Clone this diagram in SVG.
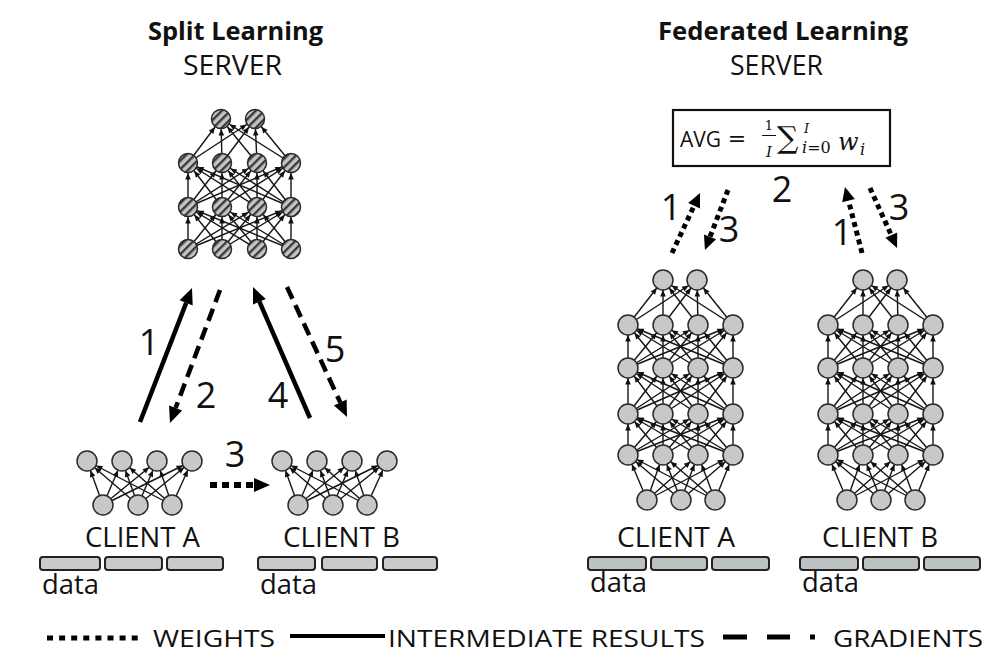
<svg xmlns="http://www.w3.org/2000/svg" xmlns:xlink="http://www.w3.org/1999/xlink" width="995" height="657" viewBox="0 0 995 657">
<style>
text{font-family:"Open Sans",Lato,"DejaVu Sans",sans-serif;fill:#111}
.title{font-size:25px;font-weight:bold}
.lbl{font-size:27px}
.num{font-size:36px;text-anchor:middle}
.leg{font-size:23px}
.e line{stroke:#151515;stroke-width:1.4;marker-end:url(#ah)}
.n{fill:#c8c8c8;stroke:#2a2a2a;stroke-width:1.5}
.h{fill:url(#hatch);stroke:#2a2a2a;stroke-width:1.5}
.bar{fill:#c9cbcb;stroke:#222;stroke-width:2}
.bar2{fill:#bcc1c2;stroke:#222;stroke-width:2}
.solid{stroke:#000;stroke-width:4.5;fill:none}
.dash{stroke:#000;stroke-width:4.5;stroke-dasharray:13 7;fill:none}
.dot{stroke:#000;stroke-width:5;stroke-dasharray:5 4;fill:none}
.m{font-family:"DejaVu Serif","Liberation Serif",serif}
</style>
<defs>
<pattern id="hatch" patternUnits="userSpaceOnUse" width="6" height="6" patternTransform="rotate(45)">
<rect width="6" height="6" fill="#c4c4c4"/><rect width="2.4" height="6" fill="#3a3a3a"/>
</pattern>
<marker id="ah" markerUnits="userSpaceOnUse" viewBox="-20 -10 40 20" markerWidth="40" markerHeight="20" refX="10" refY="0" orient="auto" overflow="visible">
<path d="M0,0 L-6.5,-2.8 L-6.5,2.8 Z" fill="#111"/>
</marker>
<marker id="big" markerUnits="userSpaceOnUse" viewBox="0 -10 20 20" markerWidth="20" markerHeight="20" refX="0" refY="0" orient="auto" overflow="visible">
<path d="M16,0 L0,-7 L0,7 Z" fill="#000"/>
</marker>
<marker id="med" markerUnits="userSpaceOnUse" viewBox="0 -10 20 20" markerWidth="20" markerHeight="20" refX="0" refY="0" orient="auto" overflow="visible">
<path d="M14,0 L0,-6.5 L0,6.5 Z" fill="#000"/>
</marker>
<g id="clientNet">
<g class="e">
<line x1="103" y1="505" x2="87" y2="461"/><line x1="103" y1="505" x2="122" y2="461"/><line x1="103" y1="505" x2="157" y2="461"/><line x1="103" y1="505" x2="192" y2="461"/>
<line x1="138" y1="505" x2="87" y2="461"/><line x1="138" y1="505" x2="122" y2="461"/><line x1="138" y1="505" x2="157" y2="461"/><line x1="138" y1="505" x2="192" y2="461"/>
<line x1="172" y1="505" x2="87" y2="461"/><line x1="172" y1="505" x2="122" y2="461"/><line x1="172" y1="505" x2="157" y2="461"/><line x1="172" y1="505" x2="192" y2="461"/>
</g>
<circle class="n" cx="87" cy="461" r="10"/><circle class="n" cx="122" cy="461" r="10"/><circle class="n" cx="157" cy="461" r="10"/><circle class="n" cx="192" cy="461" r="10"/>
<circle class="n" cx="103" cy="505" r="10"/><circle class="n" cx="138" cy="505" r="10"/><circle class="n" cx="172" cy="505" r="10"/>
</g>
<g id="flNet">
<g class="e">
<line x1="47" y1="500" x2="28" y2="455"/><line x1="47" y1="500" x2="63" y2="455"/><line x1="47" y1="500" x2="98" y2="455"/><line x1="47" y1="500" x2="133" y2="455"/>
<line x1="81" y1="500" x2="28" y2="455"/><line x1="81" y1="500" x2="63" y2="455"/><line x1="81" y1="500" x2="98" y2="455"/><line x1="81" y1="500" x2="133" y2="455"/>
<line x1="115" y1="500" x2="28" y2="455"/><line x1="115" y1="500" x2="63" y2="455"/><line x1="115" y1="500" x2="98" y2="455"/><line x1="115" y1="500" x2="133" y2="455"/>
<line x1="28" y1="455" x2="28" y2="414"/><line x1="28" y1="455" x2="63" y2="414"/><line x1="28" y1="455" x2="98" y2="414"/><line x1="28" y1="455" x2="133" y2="414"/>
<line x1="63" y1="455" x2="28" y2="414"/><line x1="63" y1="455" x2="63" y2="414"/><line x1="63" y1="455" x2="98" y2="414"/><line x1="63" y1="455" x2="133" y2="414"/>
<line x1="98" y1="455" x2="28" y2="414"/><line x1="98" y1="455" x2="63" y2="414"/><line x1="98" y1="455" x2="98" y2="414"/><line x1="98" y1="455" x2="133" y2="414"/>
<line x1="133" y1="455" x2="28" y2="414"/><line x1="133" y1="455" x2="63" y2="414"/><line x1="133" y1="455" x2="98" y2="414"/><line x1="133" y1="455" x2="133" y2="414"/>
<line x1="28" y1="414" x2="28" y2="368"/><line x1="28" y1="414" x2="63" y2="368"/><line x1="28" y1="414" x2="98" y2="368"/><line x1="28" y1="414" x2="133" y2="368"/>
<line x1="63" y1="414" x2="28" y2="368"/><line x1="63" y1="414" x2="63" y2="368"/><line x1="63" y1="414" x2="98" y2="368"/><line x1="63" y1="414" x2="133" y2="368"/>
<line x1="98" y1="414" x2="28" y2="368"/><line x1="98" y1="414" x2="63" y2="368"/><line x1="98" y1="414" x2="98" y2="368"/><line x1="98" y1="414" x2="133" y2="368"/>
<line x1="133" y1="414" x2="28" y2="368"/><line x1="133" y1="414" x2="63" y2="368"/><line x1="133" y1="414" x2="98" y2="368"/><line x1="133" y1="414" x2="133" y2="368"/>
<line x1="28" y1="368" x2="28" y2="325"/><line x1="28" y1="368" x2="63" y2="325"/><line x1="28" y1="368" x2="98" y2="325"/><line x1="28" y1="368" x2="133" y2="325"/>
<line x1="63" y1="368" x2="28" y2="325"/><line x1="63" y1="368" x2="63" y2="325"/><line x1="63" y1="368" x2="98" y2="325"/><line x1="63" y1="368" x2="133" y2="325"/>
<line x1="98" y1="368" x2="28" y2="325"/><line x1="98" y1="368" x2="63" y2="325"/><line x1="98" y1="368" x2="98" y2="325"/><line x1="98" y1="368" x2="133" y2="325"/>
<line x1="133" y1="368" x2="28" y2="325"/><line x1="133" y1="368" x2="63" y2="325"/><line x1="133" y1="368" x2="98" y2="325"/><line x1="133" y1="368" x2="133" y2="325"/>
<line x1="28" y1="325" x2="63" y2="280"/><line x1="28" y1="325" x2="97" y2="280"/>
<line x1="63" y1="325" x2="63" y2="280"/><line x1="63" y1="325" x2="97" y2="280"/>
<line x1="98" y1="325" x2="63" y2="280"/><line x1="98" y1="325" x2="97" y2="280"/>
<line x1="133" y1="325" x2="63" y2="280"/><line x1="133" y1="325" x2="97" y2="280"/>
</g>
<circle class="n" cx="63" cy="280" r="10"/><circle class="n" cx="97" cy="280" r="10"/>
<circle class="n" cx="28" cy="325" r="10"/><circle class="n" cx="63" cy="325" r="10"/><circle class="n" cx="98" cy="325" r="10"/><circle class="n" cx="133" cy="325" r="10"/>
<circle class="n" cx="28" cy="368" r="10"/><circle class="n" cx="63" cy="368" r="10"/><circle class="n" cx="98" cy="368" r="10"/><circle class="n" cx="133" cy="368" r="10"/>
<circle class="n" cx="28" cy="414" r="10"/><circle class="n" cx="63" cy="414" r="10"/><circle class="n" cx="98" cy="414" r="10"/><circle class="n" cx="133" cy="414" r="10"/>
<circle class="n" cx="28" cy="455" r="10"/><circle class="n" cx="63" cy="455" r="10"/><circle class="n" cx="98" cy="455" r="10"/><circle class="n" cx="133" cy="455" r="10"/>
<circle class="n" cx="47" cy="500" r="10"/><circle class="n" cx="81" cy="500" r="10"/><circle class="n" cx="115" cy="500" r="10"/>
</g>
</defs>
<rect width="995" height="657" fill="#fff"/>

<g id="titles">
<text class="title" x="148" y="40" textLength="175" lengthAdjust="spacingAndGlyphs">Split Learning</text>
<text class="title" x="658" y="40" textLength="250" lengthAdjust="spacingAndGlyphs">Federated Learning</text>
</g>

<g id="sl-server">
<text class="lbl" x="183" y="75" textLength="99" lengthAdjust="spacingAndGlyphs">SERVER</text>
<g class="e">
<line x1="188" y1="249" x2="188" y2="207"/><line x1="188" y1="249" x2="222" y2="207"/><line x1="188" y1="249" x2="257" y2="207"/><line x1="188" y1="249" x2="291" y2="207"/>
<line x1="222" y1="249" x2="188" y2="207"/><line x1="222" y1="249" x2="222" y2="207"/><line x1="222" y1="249" x2="257" y2="207"/><line x1="222" y1="249" x2="291" y2="207"/>
<line x1="257" y1="249" x2="188" y2="207"/><line x1="257" y1="249" x2="222" y2="207"/><line x1="257" y1="249" x2="257" y2="207"/><line x1="257" y1="249" x2="291" y2="207"/>
<line x1="291" y1="249" x2="188" y2="207"/><line x1="291" y1="249" x2="222" y2="207"/><line x1="291" y1="249" x2="257" y2="207"/><line x1="291" y1="249" x2="291" y2="207"/>
<line x1="188" y1="207" x2="188" y2="163"/><line x1="188" y1="207" x2="222" y2="163"/><line x1="188" y1="207" x2="257" y2="163"/><line x1="188" y1="207" x2="291" y2="163"/>
<line x1="222" y1="207" x2="188" y2="163"/><line x1="222" y1="207" x2="222" y2="163"/><line x1="222" y1="207" x2="257" y2="163"/><line x1="222" y1="207" x2="291" y2="163"/>
<line x1="257" y1="207" x2="188" y2="163"/><line x1="257" y1="207" x2="222" y2="163"/><line x1="257" y1="207" x2="257" y2="163"/><line x1="257" y1="207" x2="291" y2="163"/>
<line x1="291" y1="207" x2="188" y2="163"/><line x1="291" y1="207" x2="222" y2="163"/><line x1="291" y1="207" x2="257" y2="163"/><line x1="291" y1="207" x2="291" y2="163"/>
<line x1="188" y1="163" x2="221" y2="119"/><line x1="188" y1="163" x2="255" y2="119"/>
<line x1="222" y1="163" x2="221" y2="119"/><line x1="222" y1="163" x2="255" y2="119"/>
<line x1="257" y1="163" x2="221" y2="119"/><line x1="257" y1="163" x2="255" y2="119"/>
<line x1="291" y1="163" x2="221" y2="119"/><line x1="291" y1="163" x2="255" y2="119"/>
</g>
<circle class="h" cx="221" cy="119" r="9.5"/><circle class="h" cx="255" cy="119" r="9.5"/>
<circle class="h" cx="188" cy="163" r="9.5"/><circle class="h" cx="222" cy="163" r="9.5"/><circle class="h" cx="257" cy="163" r="9.5"/><circle class="h" cx="291" cy="163" r="9.5"/>
<circle class="h" cx="188" cy="207" r="9.5"/><circle class="h" cx="222" cy="207" r="9.5"/><circle class="h" cx="257" cy="207" r="9.5"/><circle class="h" cx="291" cy="207" r="9.5"/>
<circle class="h" cx="188" cy="249" r="9.5"/><circle class="h" cx="222" cy="249" r="9.5"/><circle class="h" cx="257" cy="249" r="9.5"/><circle class="h" cx="291" cy="249" r="9.5"/>
</g>

<g id="sl-client-a">
<use xlink:href="#clientNet" href="#clientNet"/>
<text class="lbl" x="85" y="547" textLength="115" lengthAdjust="spacingAndGlyphs">CLIENT A</text>
<rect class="bar" x="40" y="557" width="60" height="13" rx="3"/>
<rect class="bar" x="105" y="557" width="57" height="13" rx="3"/>
<rect class="bar" x="167" y="557" width="56" height="13" rx="3"/>
<text class="lbl" x="42" y="594" textLength="57" lengthAdjust="spacingAndGlyphs">data</text>
</g>

<g id="sl-client-b">
<use xlink:href="#clientNet" href="#clientNet" transform="translate(195,0)"/>
<text class="lbl" x="283" y="547" textLength="117" lengthAdjust="spacingAndGlyphs">CLIENT B</text>
<rect class="bar" x="258" y="557" width="57" height="13" rx="3"/>
<rect class="bar" x="322" y="557" width="55" height="13" rx="3"/>
<rect class="bar" x="383" y="557" width="54" height="13" rx="3"/>
<text class="lbl" x="260" y="594" textLength="57" lengthAdjust="spacingAndGlyphs">data</text>
</g>

<g id="fl-server">
<text class="lbl" x="730" y="75" textLength="93" lengthAdjust="spacingAndGlyphs">SERVER</text>
<rect x="673" y="110" width="217" height="56" fill="#fff" stroke="#111" stroke-width="2.2"/>
<text x="680" y="147" style="font-size:21px">AVG</text>
<text class="m" x="737" y="146" style="font-size:22px" text-anchor="middle">=</text>
<text class="m" x="769" y="130" style="font-size:13px" text-anchor="middle">1</text>
<line x1="762" y1="135.5" x2="776" y2="135.5" stroke="#111" stroke-width="1"/>
<text class="m" x="769" y="157" style="font-size:15px;font-style:italic" text-anchor="middle">I</text>
<text class="m" x="777" y="148" style="font-size:30px">∑</text>
<text class="m" x="804" y="133" style="font-size:13px;font-style:italic">I</text>
<text class="m" x="802" y="153" style="font-size:16px"><tspan font-style="italic">i</tspan>=0</text>
<text class="m" x="838" y="150" style="font-size:24px;font-style:italic">w</text>
<text class="m" x="860" y="155" style="font-size:16px;font-style:italic">i</text>
</g>

<g id="fl-client-a">
<use xlink:href="#flNet" href="#flNet" transform="translate(600,0)"/>
<text class="lbl" x="617" y="547" textLength="118" lengthAdjust="spacingAndGlyphs">CLIENT A</text>
<rect class="bar2" x="588" y="557" width="58" height="13" rx="3"/>
<rect class="bar2" x="651" y="557" width="56" height="13" rx="3"/>
<rect class="bar2" x="712" y="557" width="57" height="13" rx="3"/>
<text class="lbl" x="590" y="592" textLength="57" lengthAdjust="spacingAndGlyphs">data</text>
</g>

<g id="fl-client-b">
<use xlink:href="#flNet" href="#flNet" transform="translate(800,0)"/>
<text class="lbl" x="822" y="547" textLength="116" lengthAdjust="spacingAndGlyphs">CLIENT B</text>
<rect class="bar2" x="800" y="557" width="58" height="13" rx="3"/>
<rect class="bar2" x="863" y="557" width="56" height="13" rx="3"/>
<rect class="bar2" x="924" y="557" width="56" height="13" rx="3"/>
<text class="lbl" x="802" y="592" textLength="57" lengthAdjust="spacingAndGlyphs">data</text>
</g>

<g id="connectors">
<line class="solid" x1="140" y1="422" x2="186.2" y2="302.9" marker-end="url(#big)"/>
<line class="dash" x1="220" y1="290" x2="175.6" y2="408" marker-end="url(#big)"/>
<line class="solid" x1="310" y1="418" x2="259.4" y2="301.7" marker-end="url(#big)"/>
<line class="dash" x1="287" y1="287" x2="340.3" y2="402.5" marker-end="url(#big)"/>
<line x1="210" y1="485" x2="254" y2="485" stroke="#000" stroke-width="6" stroke-dasharray="7 5" marker-end="url(#big)"/>
<line class="dot" x1="672" y1="253" x2="694.1" y2="205.7" marker-end="url(#med)"/>
<line class="dot" x1="728" y1="190" x2="710" y2="236.9" marker-end="url(#med)"/>
<line class="dot" x1="862" y1="253" x2="848.5" y2="200.6" marker-end="url(#med)"/>
<line class="dot" x1="870" y1="188" x2="891.3" y2="235.2" marker-end="url(#med)"/>
<text class="num" x="149" y="355">1</text>
<text class="num" x="206" y="408">2</text>
<text class="num" x="235" y="467">3</text>
<text class="num" x="278" y="408">4</text>
<text class="num" x="335" y="362">5</text>
<text class="num" x="671" y="220">1</text>
<text class="num" x="729" y="242">3</text>
<text class="num" x="782" y="202">2</text>
<text class="num" x="842" y="245">1</text>
<text class="num" x="899" y="220">3</text>
</g>

<g id="legend">
<line x1="47" y1="638" x2="138" y2="638" stroke="#000" stroke-width="5" stroke-dasharray="6 6.1"/>
<text class="leg" x="153" y="647" textLength="122" lengthAdjust="spacingAndGlyphs">WEIGHTS</text>
<line x1="290" y1="636" x2="385" y2="636" stroke="#000" stroke-width="4"/>
<text class="leg" x="388" y="647" textLength="317" lengthAdjust="spacingAndGlyphs">INTERMEDIATE RESULTS</text>
<line x1="723" y1="637" x2="815" y2="637" stroke="#000" stroke-width="5" stroke-dasharray="24 20 23 20 5 100"/>
<text class="leg" x="833" y="647" textLength="150" lengthAdjust="spacingAndGlyphs">GRADIENTS</text>
</g>
</svg>
